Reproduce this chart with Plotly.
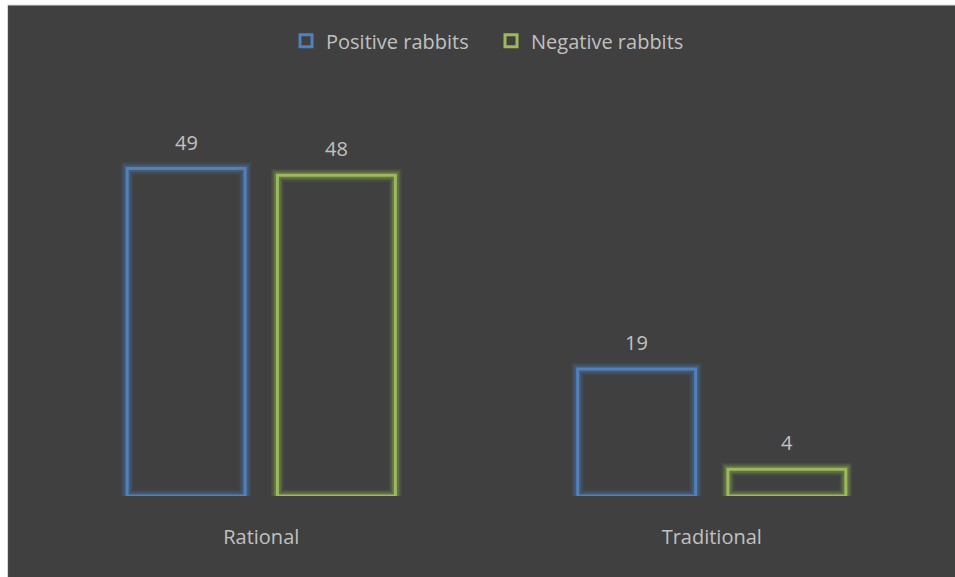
import plotly.graph_objects as go

# Chart data
categories = ["Rational", "Traditional"]
series_names = ["Positive rabbits", "Negative rabbits"]
positive_values = [49, 19]
negative_values = [48, 4]

colors = {"Positive rabbits": "#4F81BD", "Negative rabbits": "#9BBB59"}
glow_rgb = {"Positive rabbits": "79,129,189", "Negative rabbits": "155,187,89"}
text_color = "#C0C0C0"
font_family = "Open Sans"

W, H = 955, 577
ml, mr, mt, mb = 35.5, 17.5, 95, 81
plot_w = W - ml - mr
plot_h = H - mt - mb
bargap, bargroupgap = 0.333, 0.215

fig = go.Figure()

series = [(series_names[0], positive_values), (series_names[1], negative_values)]

# soft glow around each outline: wide, faint strokes drawn underneath
for name, vals in series:
    for width, alpha in [(13, 0.08), (10, 0.14), (7, 0.24)]:
        fig.add_trace(go.Bar(
            x=categories, y=vals, offsetgroup=name,
            marker=dict(color="rgba(0,0,0,0)",
                        line=dict(color=f"rgba({glow_rgb[name]},{alpha})", width=width)),
            showlegend=False, hoverinfo="skip",
        ))

# outlined bars
for name, vals in series:
    fig.add_trace(go.Bar(
        x=categories, y=vals, name=name, offsetgroup=name,
        marker=dict(color="rgba(0,0,0,0)", line=dict(color=colors[name], width=3)),
        hoverinfo="x+y+name",
    ))

# value labels above each bar, shifted to the bar's slot within its group
slot_px = (1 - bargap) * (plot_w / len(categories)) / len(series)
for i, (name, vals) in enumerate(series):
    shift = (i - (len(series) - 1) / 2) * slot_px
    for cat, v in zip(categories, vals):
        fig.add_annotation(
            x=cat, y=v, xref="x", yref="y", text=str(v), showarrow=False,
            xshift=shift, yshift=11, yanchor="bottom",
            font=dict(color=text_color, size=20, family=font_family),
        )

# dark chart area with light frame
fig.add_shape(
    type="rect", xref="paper", yref="paper", layer="below",
    x0=(7 - ml) / plot_w, x1=(W + 5 - ml) / plot_w,
    y0=(plot_h + mt - (H + 5)) / plot_h, y1=(plot_h + mt - 5) / plot_h,
    fillcolor="#404040", line=dict(color="#D9D9D9", width=1),
)

fig.update_layout(
    width=W, height=H,
    margin=dict(l=ml, r=mr, t=mt, b=mb),
    paper_bgcolor="#FFFFFF", plot_bgcolor="rgba(0,0,0,0)",
    barmode="group", bargap=bargap, bargroupgap=bargroupgap,
    font=dict(family=font_family, color=text_color, size=20),
    legend=dict(orientation="h", x=0.505, xanchor="center", y=1.135, yanchor="middle",
                font=dict(size=20, color=text_color), bgcolor="rgba(0,0,0,0)",
                itemwidth=30, traceorder="normal",
                entrywidth=160, entrywidthmode="pixels"),
    xaxis=dict(showgrid=False, showline=False, zeroline=False, ticks="",
               tickfont=dict(size=20, color=text_color), ticklabelstandoff=27),
    yaxis=dict(range=[0, 60], visible=False, showgrid=False, zeroline=False),
    showlegend=True,
)

fig.write_html("out.html")
